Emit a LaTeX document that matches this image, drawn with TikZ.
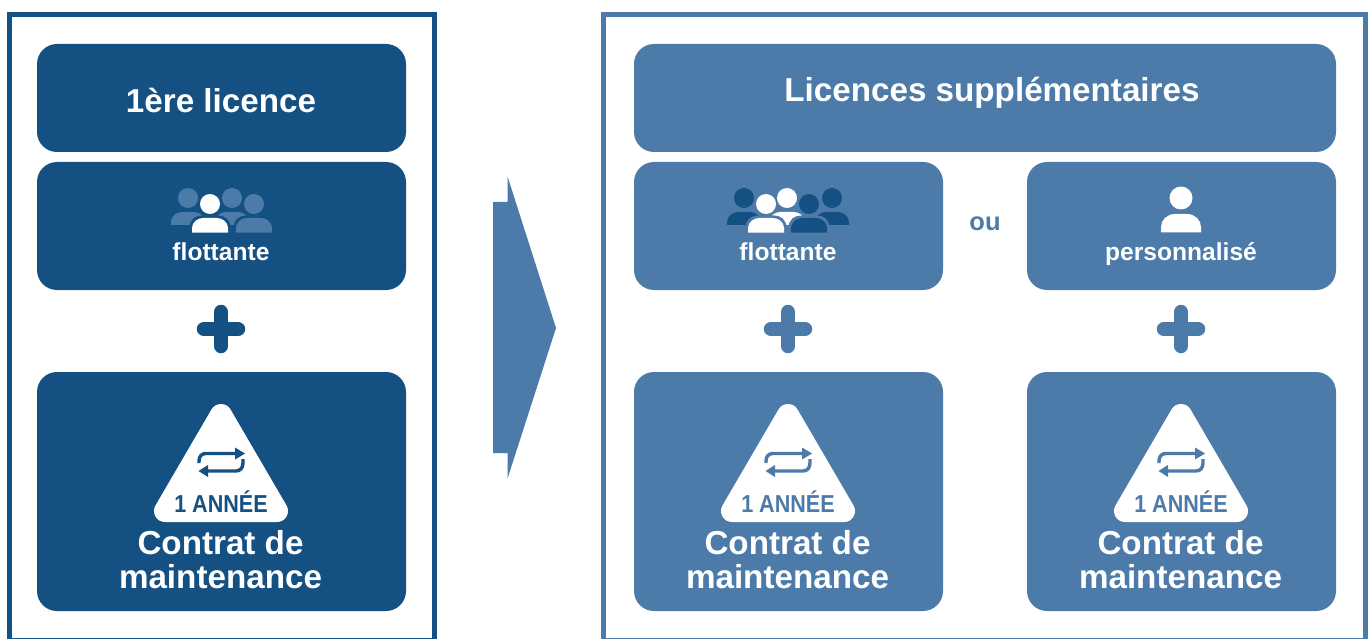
\documentclass[tikz,border=0pt]{standalone}
\usepackage{fontspec}
\setmainfont{Liberation Sans}[BoldFont={Liberation Sans Bold}]
\newfontfamily\narrowb[FakeStretch=0.88]{Liberation Sans Bold}
\usetikzlibrary{arrows.meta}
\definecolor{darkb}{HTML}{155082}
\definecolor{midb}{HTML}{4C7BA9}
\tikzset{
  x=1pt,y=-1pt,
  panel/.style={rounded corners=20pt,line width=0pt},
  frameline/.style={line width=5pt,fill=white},
  title/.style={font=\bfseries\fontsize{33.2}{36}\selectfont,text=white,inner sep=0pt},
  small/.style={font=\bfseries\fontsize{24.6}{27}\selectfont,text=white,inner sep=0pt},
  contract/.style={font=\bfseries\fontsize{33.2}{34}\selectfont,text=white,inner sep=0pt,align=center},
  year/.style={font=\narrowb\fontsize{24.5}{26}\selectfont,inner sep=0pt},
  plusline/.style={line width=14.5pt,line cap=round},
  loopline/.style={line width=3.4pt},
  badge/.style={fill=white,draw=white,line width=22pt,line join=round},
}
% person: head centre #1,#2; half body width #3; fill #4; halo #5
\newcommand{\person}[5]{%
  \fill[#5] (#1,#2) circle[radius=11.5];
  \fill[#5] (#1-#3-2.5,#2+29.5) -- (#1-#3-2.5,#2+24)
     .. controls (#1-#3-2.5,#2+15) and (#1-#3+4,#2+11.5) .. (#1-#3+10,#2+11.5)
     -- (#1+#3-10,#2+11.5) .. controls (#1+#3-4,#2+11.5) and (#1+#3+2.5,#2+15) .. (#1+#3+2.5,#2+24)
     -- (#1+#3+2.5,#2+29.5) -- cycle;
  \fill[#4] (#1,#2) circle[radius=10];
  \fill[#4] (#1-#3,#2+28.7) -- (#1-#3,#2+24)
     .. controls (#1-#3,#2+18) and (#1-#3+6,#2+14) .. (#1-#3+11,#2+14)
     -- (#1+#3-11,#2+14) .. controls (#1+#3-6,#2+14) and (#1+#3,#2+18) .. (#1+#3,#2+24)
     -- (#1+#3,#2+28.7) -- cycle;
}
% back person: shorter body
\newcommand{\backperson}[4]{%
  \fill[#4] (#1,#2) circle[radius=10];
  \fill[#4] (#1-#3,#2+27) -- (#1-#3,#2+24)
     .. controls (#1-#3,#2+18) and (#1-#3+6,#2+14) .. (#1-#3+11,#2+14)
     -- (#1+#3-11,#2+14) .. controls (#1+#3-6,#2+14) and (#1+#3,#2+18) .. (#1+#3,#2+24)
     -- (#1+#3,#2+27) -- cycle;
}
% contract block: box left #1, centre #2, box right #3, fill #4, name #5
\newcommand{\contractblock}[5]{%
  \fill[panel,#4] (#1,372) rectangle (#3,611);
  \draw[badge] (#2,415) -- (#2+56,511) -- (#2-56,511) -- cycle;
  \draw[loopline,#4] (#2-22,463) -- (#2-22,461) .. controls (#2-22,456) and (#2-19,453.5) .. (#2-15,453.5) -- (#2+14,453.5);
  \fill[#4] (#2+14,447.5) -- (#2+24,453.5) -- (#2+14,459.5) -- cycle;
  \draw[loopline,#4] (#2+22,459) -- (#2+22,463) .. controls (#2+22,468) and (#2+19,471) .. (#2+15,471) -- (#2-13,471);
  \fill[#4] (#2-13,465) -- (#2-22.5,471) -- (#2-13,477) -- cycle;
  \node[year,text=#4] (#5y) at (#2,501.5) {1 ANNÉE};
  \node[contract] (#5c) at (#2-0.5,560) {Contrat de\\maintenance};
}
\newcommand{\plusmark}[2]{%
  \draw[plusline,#2] (#1-17,329) -- (#1+17,329);
  \draw[plusline,#2] (#1,312) -- (#1,346);
}
\begin{document}
\begin{tikzpicture}
\useasboundingbox (0,0) rectangle (1371,639);
\fill[white] (0,0) rectangle (1371,639);
% frames
\begin{scope}
\clip (0,0) rectangle (1371,639);
\draw[frameline,draw=darkb] (9.3,14.3) rectangle (434,640);
\draw[frameline,draw=midb] (603,14.3) rectangle (1365.5,640);
\end{scope}
% left column
\fill[panel,darkb] (37,44) rectangle (406,152);
\node[title] (t1) at (221,100) {1ère licence};
\fill[panel,darkb] (37,162) rectangle (406,290);
\backperson{188}{198}{17}{midb}
\backperson{232}{198}{17}{midb}
\person{210}{204}{18}{white}{darkb}
\person{254}{204}{18}{midb}{darkb}
\node[small] (f1) at (221,252) {flottante};
\plusmark{221}{darkb}
\contractblock{37}{221}{406}{darkb}{a}
% arrow
\fill[midb] (493,202) -- (507.7,202) -- (507.7,177) -- (556,328) -- (507.7,478) -- (507.7,453) -- (493,453) -- cycle;
% right
\fill[panel,midb] (634,44) rectangle (1336,152);
\node[title] (t2) at (992,93) {Licences supplémentaires};
\fill[panel,midb] (634,162) rectangle (943,290);
\backperson{744}{198}{17}{darkb}
\backperson{832}{198}{17}{darkb}
\backperson{787}{198}{18}{white}
\person{766}{204}{18}{white}{midb}
\person{809}{204}{18}{darkb}{midb}
\node[small] (f2) at (788,252) {flottante};
\node[font=\bfseries\fontsize{25.5}{27}\selectfont,text=midb,inner sep=0pt] (ou) at (985,224) {ou};
\fill[panel,midb] (1027,162) rectangle (1336,290);
\fill[white] (1181,198) circle[radius=11.5];
\fill[white] (1161,232.5) -- (1161,227) .. controls (1161,220) and (1167,214) .. (1175,214) -- (1187,214) .. controls (1195,214) and (1201,220) .. (1201,227) -- (1201,232.5) -- cycle;
\node[small] (p) at (1181,254) {personnalisé};
\plusmark{788}{midb}
\plusmark{1181}{midb}
\contractblock{634}{788}{943}{midb}{b}
\contractblock{1027}{1181}{1336}{midb}{c}
\end{tikzpicture}
\end{document}
